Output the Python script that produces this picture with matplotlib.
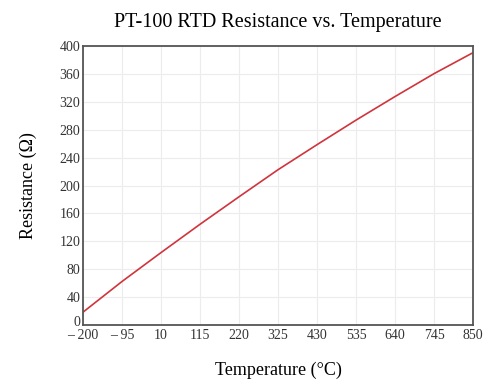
import matplotlib.pyplot as plt
import matplotlib.transforms as mtransforms

# temperature (degC) and resistance (ohm)
temp = [-200, -95, 10, 115, 220, 325, 430, 535, 640, 745, 850]
resist = [18.5, 62.5, 103.9, 144.5, 183.9, 222.7, 258.6, 293.8, 327.6, 360.4, 390.5]

x_ticks = [-200, -95, 10, 115, 220, 325, 430, 535, 640, 745, 850]
x_labels = ['\u2013 200', '\u2013 95', '10', '115', '220', '325', '430', '535', '640', '745', '850']
y_ticks = list(range(0, 401, 40))

plt.rcParams['font.family'] = ['Liberation Serif', 'DejaVu Serif']

fig = plt.figure(figsize=(5, 3.87), dpi=100)
ax = fig.add_axes([0.166, 0.160, 0.780, 0.721])
ax.plot(temp, resist, color='#d0343c', lw=1.2)

ax.set_xlim(-200, 850)
ax.set_ylim(0, 400)
ax.set_xticks(x_ticks)
ax.set_xticklabels(x_labels)
ax.set_yticks(y_ticks)
ax.tick_params(length=0, labelsize=10, colors='#333333')
ax.tick_params(axis='x', pad=3)
ax.tick_params(axis='y', pad=2)
ax.grid(color='#ececec', lw=0.8)
for s in ax.spines.values():
    s.set_color('#555555')
    s.set_linewidth(1.3)

# the "0" sits a little above the axis line so it clears "- 200"
zero = ax.get_yticklabels()[0]
zero.set_transform(zero.get_transform() + mtransforms.ScaledTranslation(0, 3 / 72, fig.dpi_scale_trans))

ax.set_title('PT-100 RTD Resistance vs. Temperature', fontsize=14.5, pad=14)
ax.set_xlabel('Temperature (\u00b0C)', fontsize=13, labelpad=14)
ax.set_ylabel('Resistance (\u03a9)', fontsize=13, labelpad=16)

fig.savefig('out.png', dpi=100)
